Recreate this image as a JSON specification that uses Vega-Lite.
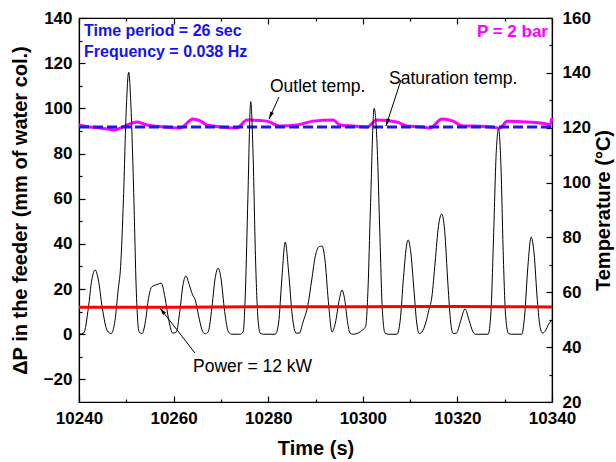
{
  "$schema": "https://vega.github.io/schema/vega-lite/v6.json",
  "width": 473,
  "height": 384,
  "autosize": "none",
  "padding": {"left": 79, "top": 18, "right": 64, "bottom": 60},
  "config": {
    "view": {"stroke": "black", "strokeWidth": 1.2},
    "font": "Liberation Sans",
    "axis": {
      "grid": false,
      "domainColor": "black",
      "domainWidth": 1.2,
      "tickColor": "black",
      "tickWidth": 1.2,
      "labelFont": "Liberation Sans",
      "labelFontWeight": "bold",
      "labelFontSize": 17,
      "labelColor": "black",
      "titleFont": "Liberation Sans",
      "titleFontWeight": "bold",
      "titleFontSize": 20,
      "titleColor": "black"
    }
  },
  "resolve": {"scale": {"y": "independent"}, "axis": {"x": "independent", "y": "independent"}},
  "layer": [
    {
      "encoding": {
        "x": {
          "field": "t", "type": "quantitative",
          "scale": {"domain": [10240, 10340], "nice": false, "zero": false},
          "axis": {
            "orient": "top", "title": null, "labels": false,
            "values": [10240, 10260, 10280, 10300, 10320, 10340],
            "tickSize": -6
          }
        },
        "y": {
          "field": "v", "type": "quantitative",
          "scale": {"domain": [20, 160], "nice": false, "zero": false},
          "axis": {
            "orient": "right", "title": "Temperature (°C)", "titleAngle": 270, "titleBaseline": "top",
            "values": [20, 40, 60, 80, 100, 120, 140, 160],
            "tickSize": -6, "labelPadding": 16, "titlePadding": 3, "labelFlush": false
          }
        }
      },
      "data": {"values": [
        {"t": 10240, "v": 121.0}, {"t": 10242.3, "v": 120.3}, {"t": 10244.4, "v": 119.9}, {"t": 10246.2, "v": 119.5},
        {"t": 10247.6, "v": 119.2}, {"t": 10249.3, "v": 120.3}, {"t": 10252.3, "v": 122.1}, {"t": 10254.4, "v": 121.0},
        {"t": 10257.8, "v": 120.3}, {"t": 10261.4, "v": 119.9}, {"t": 10264.1, "v": 123.2}, {"t": 10265.5, "v": 122.6},
        {"t": 10267.1, "v": 121.0}, {"t": 10269.8, "v": 120.3}, {"t": 10273.4, "v": 119.9}, {"t": 10275.5, "v": 122.8},
        {"t": 10279.7, "v": 122.4}, {"t": 10282.5, "v": 120.6}, {"t": 10286.1, "v": 121.0}, {"t": 10289.5, "v": 122.4},
        {"t": 10293.7, "v": 122.8}, {"t": 10295.2, "v": 121.0}, {"t": 10297.9, "v": 120.6}, {"t": 10300.9, "v": 120.3},
        {"t": 10303.0, "v": 122.8}, {"t": 10307.2, "v": 122.1}, {"t": 10309.3, "v": 120.6}, {"t": 10312.7, "v": 120.3},
        {"t": 10314.2, "v": 119.9}, {"t": 10316.7, "v": 123.2}, {"t": 10319.1, "v": 122.4}, {"t": 10321.2, "v": 120.6},
        {"t": 10323.3, "v": 120.6}, {"t": 10326.9, "v": 120.3}, {"t": 10329.0, "v": 119.9}, {"t": 10330.5, "v": 122.4},
        {"t": 10334.7, "v": 122.1}, {"t": 10338.9, "v": 121.4}, {"t": 10339.5, "v": 121.0}, {"t": 10340, "v": 123.5}
      ]},
      "mark": {"type": "line", "color": "#ff00ff", "strokeWidth": 3, "interpolate": "monotone"}
    },
    {
      "encoding": {
        "x": {
          "field": "t", "type": "quantitative",
          "scale": {"domain": [10240, 10340], "nice": false, "zero": false},
          "axis": {
            "orient": "top", "title": null, "labels": false, "domain": false,
            "values": [10250, 10270, 10290, 10310, 10330],
            "tickSize": -3
          }
        },
        "y": {
          "field": "v", "type": "quantitative",
          "scale": {"domain": [20, 160], "nice": false, "zero": false},
          "axis": {
            "orient": "right", "title": null, "labels": false, "domain": false,
            "values": [30, 50, 70, 90, 110, 130, 150],
            "tickSize": -3
          }
        }
      },
      "data": {"values": [{"t": 10240, "v": 120.3}, {"t": 10340, "v": 120.3}]},
      "mark": {"type": "line", "color": "#1a1aee", "strokeWidth": 3, "strokeDash": [10, 4]}
    },
    {
      "encoding": {
        "x": {
          "field": "t", "type": "quantitative",
          "scale": {"domain": [10240, 10340], "nice": false, "zero": false},
          "axis": {
            "orient": "bottom", "title": "Time (s)", "format": "d",
            "values": [10240, 10260, 10280, 10300, 10320, 10340],
            "tickSize": -6, "labelPadding": 14, "titlePadding": 12, "labelFlush": false
          }
        },
        "y": {
          "field": "v", "type": "quantitative",
          "scale": {"domain": [-30, 140], "nice": false, "zero": false},
          "axis": {
            "orient": "left", "title": "ΔP in the feeder (mm of water col.)",
            "values": [-20, 0, 20, 40, 60, 80, 100, 120, 140],
            "tickSize": -6, "labelPadding": 13, "titlePadding": 13, "labelFlush": false
          }
        }
      },
      "layer": [
        {
          "data": {"values": [
            {"t": 10240.0, "v": 0}, {"t": 10241.0, "v": 0.5}, {"t": 10242.0, "v": 12}, {"t": 10242.7, "v": 24},
            {"t": 10243.4, "v": 28.5}, {"t": 10244.1, "v": 24}, {"t": 10244.9, "v": 12}, {"t": 10246.0, "v": 1.5},
            {"t": 10246.8, "v": 0.3}, {"t": 10247.6, "v": 6}, {"t": 10248.3, "v": 20}, {"t": 10248.8, "v": 30},
            {"t": 10249.4, "v": 60}, {"t": 10250.0, "v": 100}, {"t": 10250.5, "v": 116}, {"t": 10251.0, "v": 100},
            {"t": 10251.6, "v": 60}, {"t": 10252.1, "v": 20}, {"t": 10252.7, "v": 1}, {"t": 10253.3, "v": 0.3},
            {"t": 10254.0, "v": 5}, {"t": 10254.7, "v": 16}, {"t": 10255.4, "v": 21}, {"t": 10256.5, "v": 22},
            {"t": 10257.4, "v": 22.6}, {"t": 10258.2, "v": 16}, {"t": 10259.0, "v": 6}, {"t": 10259.8, "v": 0.5},
            {"t": 10260.6, "v": 1}, {"t": 10261.3, "v": 10}, {"t": 10262.0, "v": 22}, {"t": 10262.6, "v": 25.8},
            {"t": 10263.3, "v": 22}, {"t": 10264.0, "v": 17.5}, {"t": 10264.6, "v": 15}, {"t": 10265.3, "v": 8},
            {"t": 10266.0, "v": 2}, {"t": 10266.6, "v": 0.2}, {"t": 10267.3, "v": 1}, {"t": 10268.0, "v": 10},
            {"t": 10268.8, "v": 25}, {"t": 10269.4, "v": 29.3}, {"t": 10270.0, "v": 25}, {"t": 10270.8, "v": 10},
            {"t": 10271.6, "v": 1}, {"t": 10272.3, "v": 0}, {"t": 10274.0, "v": 0}, {"t": 10274.7, "v": 1},
            {"t": 10275.2, "v": 20}, {"t": 10275.7, "v": 60}, {"t": 10276.3, "v": 103}, {"t": 10276.8, "v": 80},
            {"t": 10277.3, "v": 35}, {"t": 10277.8, "v": 8}, {"t": 10278.3, "v": 0.5}, {"t": 10279.0, "v": 0},
            {"t": 10281.5, "v": 0}, {"t": 10282.2, "v": 5}, {"t": 10282.9, "v": 25}, {"t": 10283.6, "v": 40.8},
            {"t": 10284.3, "v": 28}, {"t": 10285.1, "v": 8}, {"t": 10285.9, "v": 0.5}, {"t": 10286.6, "v": 0.5},
            {"t": 10287.3, "v": 5}, {"t": 10288.4, "v": 13}, {"t": 10289.2, "v": 24}, {"t": 10290.0, "v": 35},
            {"t": 10290.8, "v": 38.8}, {"t": 10291.4, "v": 39}, {"t": 10292.0, "v": 33}, {"t": 10292.7, "v": 15},
            {"t": 10293.5, "v": 1}, {"t": 10294.2, "v": 5}, {"t": 10295.0, "v": 15}, {"t": 10295.6, "v": 19.6},
            {"t": 10296.2, "v": 15}, {"t": 10296.8, "v": 5}, {"t": 10297.3, "v": 0.5}, {"t": 10298.0, "v": 0},
            {"t": 10299.0, "v": 0.5}, {"t": 10300.0, "v": 2}, {"t": 10300.6, "v": 3.5}, {"t": 10301.1, "v": 20},
            {"t": 10301.6, "v": 55}, {"t": 10302.4, "v": 100}, {"t": 10303.0, "v": 85}, {"t": 10303.6, "v": 45},
            {"t": 10304.1, "v": 12}, {"t": 10304.7, "v": 0.5}, {"t": 10305.5, "v": 0}, {"t": 10307.2, "v": 0},
            {"t": 10307.9, "v": 6}, {"t": 10308.6, "v": 25}, {"t": 10309.3, "v": 40}, {"t": 10309.6, "v": 41.7},
            {"t": 10310.1, "v": 37}, {"t": 10310.8, "v": 20}, {"t": 10311.4, "v": 5}, {"t": 10311.9, "v": 0.3},
            {"t": 10312.5, "v": 1}, {"t": 10313.3, "v": 5}, {"t": 10314.0, "v": 11}, {"t": 10314.6, "v": 16.5},
            {"t": 10315.3, "v": 32}, {"t": 10316.0, "v": 48}, {"t": 10316.7, "v": 53.2}, {"t": 10317.3, "v": 46},
            {"t": 10318.0, "v": 22}, {"t": 10318.6, "v": 5}, {"t": 10319.1, "v": 0.3}, {"t": 10319.8, "v": 0.5},
            {"t": 10320.7, "v": 6}, {"t": 10321.6, "v": 11.2}, {"t": 10322.5, "v": 6}, {"t": 10323.3, "v": 1},
            {"t": 10323.8, "v": 0}, {"t": 10326.5, "v": 0}, {"t": 10327.1, "v": 10}, {"t": 10327.6, "v": 40},
            {"t": 10328.2, "v": 80}, {"t": 10328.7, "v": 91}, {"t": 10329.2, "v": 75}, {"t": 10329.7, "v": 35},
            {"t": 10330.2, "v": 8}, {"t": 10330.8, "v": 0.3}, {"t": 10331.5, "v": 0}, {"t": 10333.6, "v": 0},
            {"t": 10334.2, "v": 8}, {"t": 10334.9, "v": 30}, {"t": 10335.6, "v": 43}, {"t": 10336.2, "v": 36},
            {"t": 10336.9, "v": 15}, {"t": 10337.5, "v": 3}, {"t": 10338.0, "v": 0.5}, {"t": 10338.6, "v": 1.5},
            {"t": 10339.3, "v": 4.5}, {"t": 10340.0, "v": 6.3}
          ]},
          "mark": {"type": "line", "color": "black", "strokeWidth": 1, "interpolate": "monotone"}
        },
        {
          "data": {"values": [
            {"t": 10240, "v": 11.9}, {"t": 10260, "v": 12.0}, {"t": 10280, "v": 12.2},
            {"t": 10300, "v": 12.2}, {"t": 10320, "v": 12.3}, {"t": 10340, "v": 12.1}
          ]},
          "mark": {"type": "line", "color": "#ff0000", "strokeWidth": 3, "interpolate": "monotone"}
        }
      ]
    },
    {
      "encoding": {
        "x": {
          "field": "t", "type": "quantitative",
          "scale": {"domain": [10240, 10340], "nice": false, "zero": false},
          "axis": {
            "orient": "bottom", "title": null, "labels": false, "domain": false,
            "values": [10250, 10270, 10290, 10310, 10330],
            "tickSize": -3
          }
        },
        "y": {
          "field": "v", "type": "quantitative",
          "scale": {"domain": [-30, 140], "nice": false, "zero": false},
          "axis": {
            "orient": "left", "title": null, "labels": false, "domain": false,
            "values": [-10, 10, 30, 50, 70, 90, 110, 130],
            "tickSize": -3
          }
        }
      },
      "layer": [
        {
          "data": {"values": [
            {"t": 10282.28, "v": 105.03, "t2": 10280.17, "v2": 95.29},
            {"t": 10308.08, "v": 112.55, "t2": 10304.9, "v2": 92.19},
            {"t": 10264.52, "v": -8.31, "t2": 10257.12, "v2": 11.61}
          ]},
          "mark": {"type": "rule", "color": "black", "strokeWidth": 1},
          "encoding": {"x2": {"field": "t2"}, "y2": {"field": "v2"}}
        },
        {
          "data": {"values": [{"t": 10280.48, "v": 96.7}]},
          "mark": {"type": "point", "shape": "M0,-1L0.5,1L-0.5,1Z", "filled": true, "color": "black", "opacity": 1, "size": 60, "angle": 204.5}
        },
        {
          "data": {"values": [{"t": 10305.14, "v": 93.65}]},
          "mark": {"type": "point", "shape": "M0,-1L0.5,1L-0.5,1Z", "filled": true, "color": "black", "opacity": 1, "size": 60, "angle": 198}
        },
        {
          "data": {"values": [{"t": 10257.58, "v": 10.39}]},
          "mark": {"type": "point", "shape": "M0,-1L0.5,1L-0.5,1Z", "filled": true, "color": "black", "opacity": 1, "size": 60, "angle": 322}
        },
        {
          "data": {"values": [
            {"t": 10241.06, "v": 132.03, "label": "Time period = 26 sec"},
            {"t": 10241.06, "v": 122.73, "label": "Frequency = 0.038 Hz"}
          ]},
          "mark": {"type": "text", "align": "left", "baseline": "alphabetic", "font": "Liberation Sans", "fontWeight": "bold", "fontSize": 16, "color": "#1414ee"},
          "encoding": {"text": {"field": "label"}}
        },
        {
          "data": {"values": [{"t": 10339.15, "v": 131.59, "label": "P = 2 bar"}]},
          "mark": {"type": "text", "align": "right", "baseline": "alphabetic", "font": "Liberation Sans", "fontWeight": "bold", "fontSize": 17, "color": "#ff00ff"},
          "encoding": {"text": {"field": "label"}}
        },
        {
          "data": {"values": [
            {"t": 10280.38, "v": 107.24, "label": "Outlet temp."},
            {"t": 10305.54, "v": 110.78, "label": "Saturation temp."},
            {"t": 10264.1, "v": -16.72, "label": "Power = 12 kW"}
          ]},
          "mark": {"type": "text", "align": "left", "baseline": "alphabetic", "font": "Liberation Sans", "fontSize": 17.5, "color": "black"},
          "encoding": {"text": {"field": "label"}}
        }
      ]
    }
  ]
}
